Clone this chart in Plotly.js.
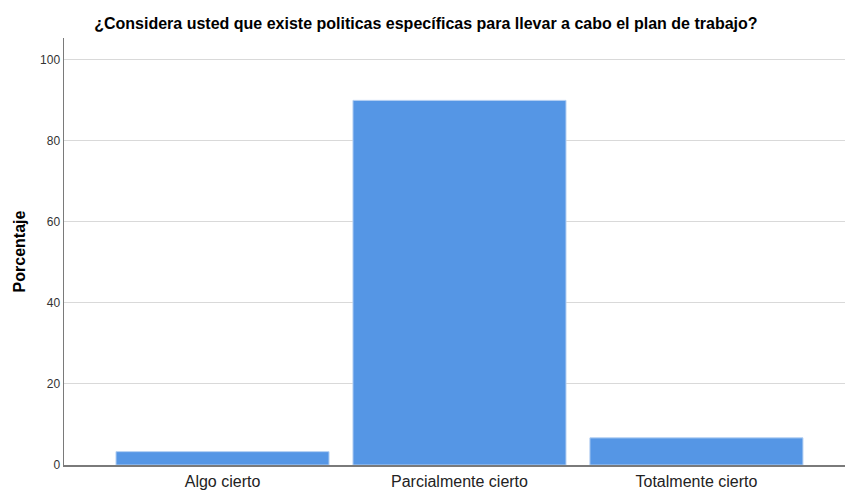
<!DOCTYPE html>
<html>
<head>
<meta charset="utf-8">
<script src="https://cdn.plot.ly/plotly-3.0.1.min.js"></script>
<style>html,body{margin:0;padding:0;background:#fff;}#chart{width:845px;height:490px;}</style>
</head>
<body>
<div id="chart"></div>
<script>
const categories = ["Algo cierto", "Parcialmente cierto", "Totalmente cierto"];
const percentages = [3.3, 90.0, 6.7];
const yTickValues = [0, 20, 40, 60, 80, 100];
const chartTitle = "¿Considera usted que existe politicas específicas para llevar a cabo el plan de trabajo?";
const yTitle = "Porcentaje";

const FONT = "Arial, 'Liberation Sans', sans-serif";

const trace = {
  type: "bar",
  x: categories,
  y: percentages,
  marker: { color: "#5596e5", line: { color: "#b3cff2", width: 1 } },
  hoverinfo: "x+y"
};

const layout = {
  width: 845,
  height: 490,
  margin: { l: 64, r: 0, t: 38, b: 25 },
  paper_bgcolor: "#ffffff",
  plot_bgcolor: "#ffffff",
  bargap: 0.101,
  showlegend: false,
  font: { family: FONT, color: "#222" },
  title: {
    text: chartTitle,
    font: { family: FONT, size: 16, color: "#000", weight: "bold" },
    xref: "container", yref: "container",
    x: 0.504, xanchor: "center",
    y: 0.952, yanchor: "middle"
  },
  xaxis: {
    type: "category",
    range: [-0.669, 2.627],
    showline: true, linecolor: "#7a7a7a", linewidth: 1.5,
    showgrid: false, ticks: "",
    tickfont: { family: FONT, size: 16, color: "#222" },
    ticklabelstandoff: 1,
    fixedrange: true
  },
  yaxis: {
    range: [0, 105.4],
    tickvals: yTickValues,
    ticktext: yTickValues.map(String),
    showline: true, linecolor: "#7a7a7a", linewidth: 1.5,
    showgrid: true, gridcolor: "#d9d9d9", gridwidth: 1,
    zeroline: false, ticks: "",
    tickfont: { family: FONT, size: 12, color: "#333" },
    title: { text: yTitle, font: { family: FONT, size: 16, color: "#000", weight: "bold" }, standoff: 10 },
    automargin: false,
    fixedrange: true
  }
};

Plotly.newPlot("chart", [trace], layout, { displayModeBar: false, staticPlot: true });
</script>
</body>
</html>
